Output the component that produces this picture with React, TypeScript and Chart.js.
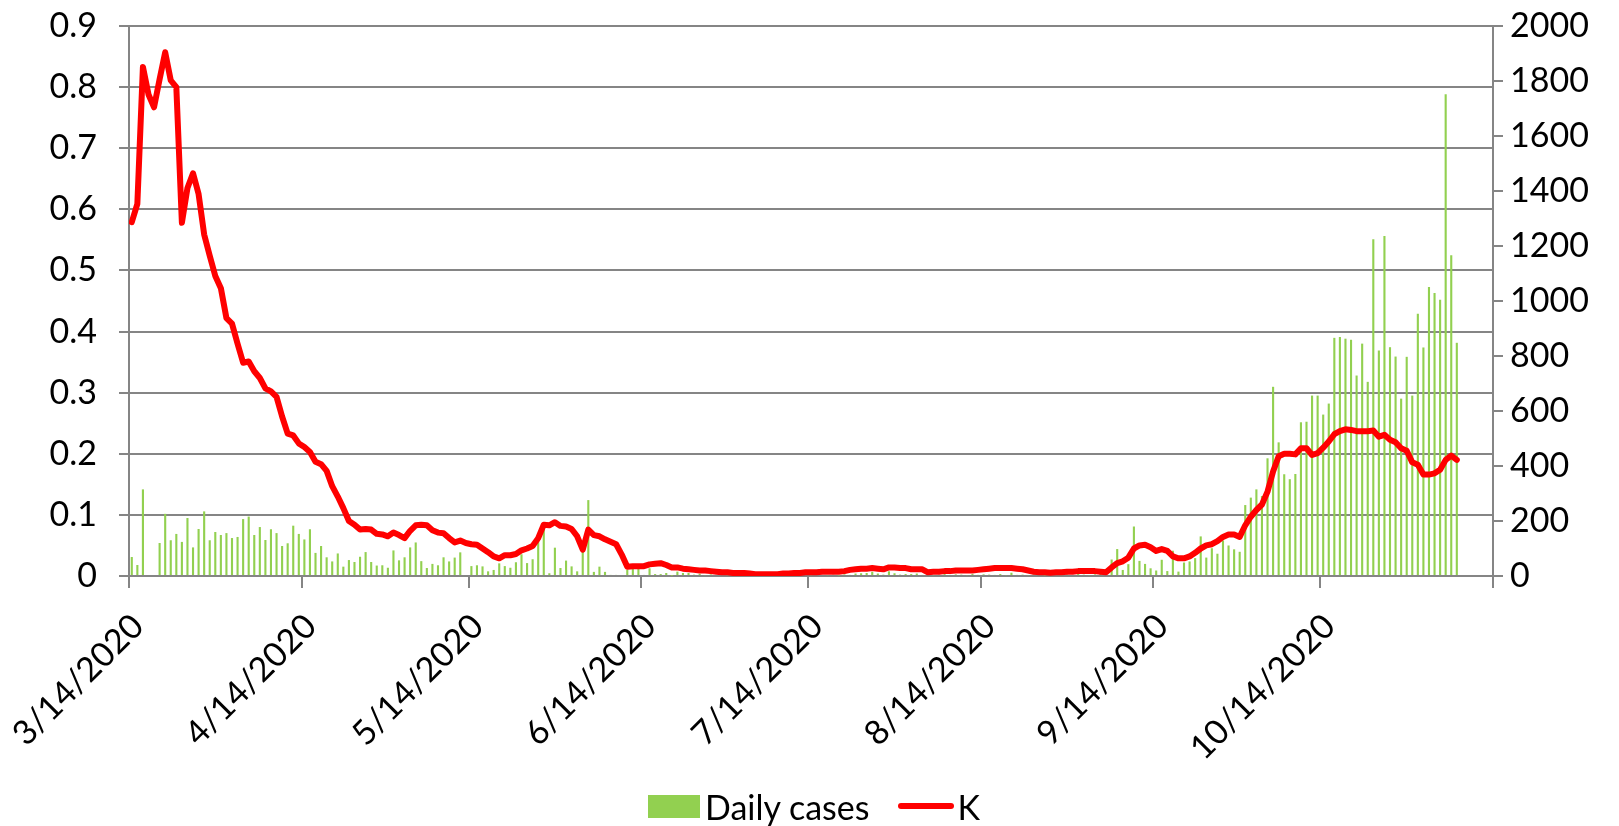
import React, { useEffect, useRef } from 'react';
import { Chart, registerables } from 'chart.js';

Chart.register(...registerables);

// Day offsets (days since 3/14/2020) of the x-axis month ticks and their labels
const xTickDays = [0, 31, 61, 92, 122, 153, 184, 214, 245];
const xTickLabels = ['3/14/2020', '4/14/2020', '5/14/2020', '6/14/2020', '7/14/2020', '8/14/2020', '9/14/2020', '10/14/2020', ''];

const leftTickLabels = ['0', '0.1', '0.2', '0.3', '0.4', '0.5', '0.6', '0.7', '0.8', '0.9'];
const rightTickLabels = ['0', '200', '400', '600', '800', '1000', '1200', '1400', '1600', '1800', '2000'];

// Daily cases, one value per day starting 3/14/2020
const dailyCases = [
  69, 40, 315, 0, 0, 120, 226, 130, 153, 124,
  211, 104, 171, 235, 130, 160, 149, 156, 138, 142,
  207, 216, 149, 178, 131, 170, 156, 109, 119, 183,
  153, 133, 170, 84, 109, 68, 53, 82, 34, 58,
  51, 70, 87, 51, 38, 39, 30, 93, 57, 68,
  104, 122, 54, 29, 44, 39, 68, 53, 67, 86,
  0, 36, 39, 35, 17, 22, 46, 36, 30, 50,
  79, 47, 61, 130, 173, 10, 103, 29, 56, 35,
  17, 89, 276, 15, 34, 15, 4, 4, 0, 23,
  28, 28, 4, 28, 7, 7, 11, 1, 16, 11,
  11, 5, 8, 3, 6, 4, 9, 3, 5, 2,
  4, 6, 3, 2, 5, 3, 4, 2, 3, 4,
  2, 5, 3, 6, 4, 3, 5, 2, 6, 4,
  9, 10, 11, 15, 9, 5, 17, 10, 5, 7,
  7, 9, 4, 6, 3, 5, 7, 4, 6, 5,
  3, 7, 4, 6, 5, 4, 7, 3, 12, 4,
  5, 3, 6, 4, 2, 5, 7, 3, 6, 4,
  8, 5, 3, 6, 10, 25, 60, 98, 22, 43,
  180, 55, 44, 28, 20, 59, 18, 92, 16, 49,
  53, 65, 144, 67, 101, 81, 129, 111, 97, 88,
  258, 285, 315, 291, 428, 688, 486, 370, 352, 371,
  559, 561, 656, 656, 587, 627, 866, 869, 863, 859,
  729, 845, 706, 1225, 820, 1236, 832, 798, 645, 797,
  656, 954, 831, 1051, 1029, 1005, 1752, 1166, 848,
];

// K, one value per day starting 3/14/2020
const kValues = [
  0.579, 0.609, 0.833, 0.788, 0.767, 0.813, 0.857, 0.811, 0.800, 0.578,
  0.635, 0.659, 0.625, 0.559, 0.524, 0.491, 0.471, 0.422, 0.413, 0.380,
  0.349, 0.351, 0.335, 0.324, 0.307, 0.302, 0.293, 0.261, 0.233, 0.230,
  0.217, 0.211, 0.203, 0.187, 0.183, 0.172, 0.147, 0.130, 0.111, 0.090,
  0.084, 0.076, 0.077, 0.076, 0.069, 0.068, 0.065, 0.071, 0.067, 0.062,
  0.074, 0.083, 0.084, 0.083, 0.075, 0.071, 0.070, 0.062, 0.055, 0.058,
  0.054, 0.052, 0.051, 0.045, 0.039, 0.032, 0.029, 0.034, 0.034, 0.036,
  0.042, 0.045, 0.049, 0.062, 0.084, 0.083, 0.088, 0.082, 0.081, 0.077,
  0.065, 0.043, 0.076, 0.067, 0.065, 0.060, 0.056, 0.052, 0.035, 0.015,
  0.016, 0.016, 0.016, 0.019, 0.020, 0.021, 0.018, 0.014, 0.014, 0.012,
  0.011, 0.010, 0.009, 0.009, 0.008, 0.007, 0.006, 0.006, 0.005, 0.005,
  0.005, 0.004, 0.003, 0.003, 0.003, 0.003, 0.003, 0.004, 0.004, 0.005,
  0.005, 0.006, 0.006, 0.006, 0.007, 0.007, 0.007, 0.007, 0.008, 0.010,
  0.011, 0.012, 0.012, 0.013, 0.012, 0.011, 0.014, 0.014, 0.013, 0.013,
  0.011, 0.011, 0.011, 0.006, 0.007, 0.007, 0.008, 0.008, 0.009, 0.009,
  0.009, 0.009, 0.010, 0.011, 0.012, 0.013, 0.013, 0.013, 0.013, 0.012,
  0.011, 0.009, 0.007, 0.006, 0.006, 0.0055, 0.006, 0.006, 0.007, 0.007,
  0.008, 0.008, 0.008, 0.008, 0.007, 0.006, 0.014, 0.021, 0.024, 0.030,
  0.045, 0.050, 0.051, 0.047, 0.041, 0.044, 0.041, 0.032, 0.029, 0.029,
  0.032, 0.038, 0.045, 0.050, 0.052, 0.057, 0.064, 0.068, 0.068, 0.064,
  0.083, 0.097, 0.108, 0.117, 0.138, 0.171, 0.196, 0.200, 0.200, 0.199,
  0.209, 0.209, 0.198, 0.201, 0.210, 0.220, 0.232, 0.237, 0.240, 0.239,
  0.237, 0.237, 0.237, 0.238, 0.228, 0.231, 0.223, 0.219, 0.209, 0.205,
  0.186, 0.182, 0.166, 0.166, 0.168, 0.174, 0.190, 0.197, 0.190,
];

const FONT = 'Lato, "Open Sans", sans-serif';
const GRID = '#858585';

const noPad = (scale: any) => {
  scale.paddingTop = 0;
  scale.paddingBottom = 0;
  scale.paddingLeft = 0;
  scale.paddingRight = 0;
};

export default function App() {
  const ref = useRef<HTMLCanvasElement>(null);

  useEffect(() => {
    const canvas = ref.current;
    if (!canvas) return;
    const chart = new Chart(canvas, {
      type: 'bar',
      data: {
        datasets: [
          {
            type: 'bar',
            label: 'Daily cases',
            data: dailyCases.map((v, i) => ({ x: i + 0.5, y: v })),
            backgroundColor: '#92D050',
            borderWidth: 0,
            yAxisID: 'y1',
            order: 2,
            barPercentage: 0.38,
            categoryPercentage: 1,
          } as any,
          {
            type: 'line',
            label: 'K',
            data: kValues.map((v, i) => ({ x: i + 0.5, y: v })),
            borderColor: '#FF0000',
            backgroundColor: '#FF0000',
            borderWidth: 6,
            pointRadius: 0,
            tension: 0,
            borderJoinStyle: 'round',
            borderCapStyle: 'round',
            yAxisID: 'y',
            order: 1,
          } as any,
        ],
      },
      options: {
        responsive: false,
        animation: false,
        layout: { padding: { top: 26, left: 0, right: 0, bottom: 0 } },
        plugins: {
          legend: { display: false },
          tooltip: { enabled: false },
        },
        scales: {
          x: {
            type: 'linear',
            min: 0,
            max: 245,
            offset: false,
            afterBuildTicks: (scale: any) => {
              scale.ticks = xTickDays.map((d) => ({ value: d }));
            },
            afterFit: (scale: any) => {
              scale.height = 250;
              noPad(scale);
            },
            grid: {
              display: true,
              drawOnChartArea: false,
              drawTicks: true,
              tickLength: 12,
              color: GRID,
              lineWidth: 2,
              offset: false,
            },
            border: { display: true, color: GRID, width: 2 },
            ticks: {
              autoSkip: false,
              minRotation: 45,
              maxRotation: 45,
              padding: 18,
              labelOffset: 9,
              color: '#000',
              font: { family: FONT, size: 34 },
              callback: (_v: any, i: number) => xTickLabels[i],
            },
          },
          y: {
            type: 'linear',
            position: 'left',
            min: 0,
            max: 0.9,
            afterFit: (scale: any) => {
              scale.width = 129;
              noPad(scale);
            },
            grid: {
              display: true,
              drawOnChartArea: true,
              drawTicks: true,
              tickLength: 10,
              color: GRID,
              lineWidth: 2,
            },
            border: { display: true, color: GRID, width: 2 },
            ticks: {
              stepSize: 0.1,
              padding: 22,
              color: '#000',
              font: { family: FONT, size: 34 },
              callback: (_v: any, i: number) => leftTickLabels[i],
            },
          },
          y1: {
            type: 'linear',
            position: 'right',
            min: 0,
            max: 2000,
            afterFit: (scale: any) => {
              scale.width = 126;
              noPad(scale);
            },
            grid: {
              display: true,
              drawOnChartArea: false,
              drawTicks: true,
              tickLength: 10,
              color: GRID,
              lineWidth: 2,
            },
            border: { display: true, color: GRID, width: 2 },
            ticks: {
              stepSize: 200,
              padding: 7,
              color: '#000',
              font: { family: FONT, size: 34 },
              callback: (_v: any, i: number) => rightTickLabels[i],
            },
          },
        },
      } as any,
    });
    return () => chart.destroy();
  }, []);

  return (
    <div style={{ position: 'fixed', left: 0, top: 0, width: 1619, height: 826, background: '#fff' }}>
      <canvas ref={ref} width={1619} height={826} style={{ position: 'absolute', left: 0, top: 0 }} />
      <div
        style={{
          position: 'absolute',
          left: 648,
          top: 788,
          height: 36,
          display: 'flex',
          alignItems: 'center',
          fontFamily: FONT,
          fontSize: 34,
          color: '#000',
          whiteSpace: 'nowrap',
        }}
      >
        <span style={{ display: 'inline-block', width: 52, height: 23, background: '#92D050' }} />
        <span style={{ marginLeft: 5 }}>Daily cases</span>
        <span style={{ display: 'inline-block', width: 56, height: 6, background: '#FF0000', marginLeft: 29, borderRadius: 3 }} />
        <span style={{ marginLeft: 3 }}>K</span>
      </div>
    </div>
  );
}
